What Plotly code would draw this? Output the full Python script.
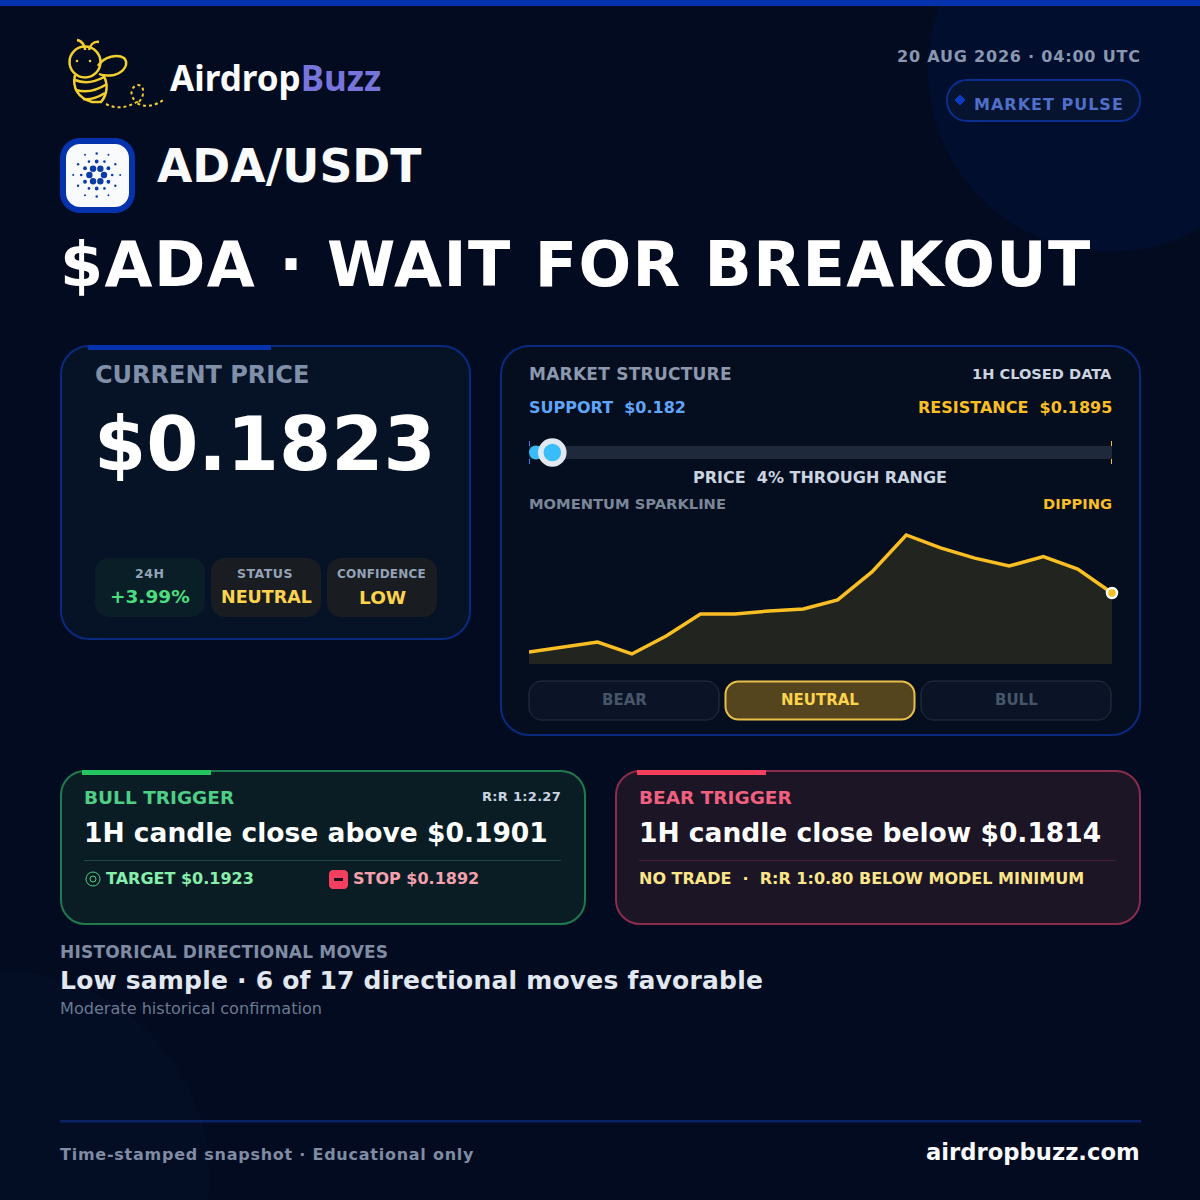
import math
import plotly.graph_objects as go

# values
momentum = [9, 12.7, 16.4, 7.5, 20.9, 37.3, 37.3, 39.6, 41, 47.8, 68.7, 96.3, 86.6, 79, 73.1, 80.2, 70.9, 53]
momentum_idx = list(range(len(momentum)))
range_pct = 4

pair = "ADA/USDT"
headline = "$ADA · WAIT FOR BREAKOUT"
stamp = "20 AUG 2026 · 04:00 UTC"
price = "$0.1823"
stat_labels = ["24H", "STATUS", "CONFIDENCE"]
stat_values = ["+3.99%", "NEUTRAL", "LOW"]
stat_colors = ["#4ade80", "#fcd34d", "#fcd34d"]
stance_labels = ["BEAR", "NEUTRAL", "BULL"]

W = 1200
FONT = "DejaVu Sans"

shapes = []
notes = []


def rrect(x0, y0, x1, y1, r, fill=None, line=None, lw=1.5):
    k = r * 0.45
    p = (f"M{x0+r},{y0} L{x1-r},{y0} C{x1-k},{y0} {x1},{y0+k} {x1},{y0+r} "
         f"L{x1},{y1-r} C{x1},{y1-k} {x1-k},{y1} {x1-r},{y1} "
         f"L{x0+r},{y1} C{x0+k},{y1} {x0},{y1-k} {x0},{y1-r} "
         f"L{x0},{y0+r} C{x0},{y0+k} {x0+k},{y0} {x0+r},{y0} Z")
    shapes.append(dict(type="path", path=p, xref="x", yref="y", layer="below",
                       fillcolor=fill or "rgba(0,0,0,0)",
                       line=dict(color=line or "rgba(0,0,0,0)", width=lw if line else 0)))


def rect(x0, y0, x1, y1, fill):
    shapes.append(dict(type="rect", x0=x0, y0=y0, x1=x1, y1=y1, xref="x", yref="y",
                       layer="below", fillcolor=fill, line=dict(width=0)))


def circle(cx, cy, r, fill=None, line=None, lw=1):
    shapes.append(dict(type="circle", x0=cx-r, y0=cy-r, x1=cx+r, y1=cy+r, xref="x", yref="y",
                       layer="below", fillcolor=fill or "rgba(0,0,0,0)",
                       line=dict(color=line or "rgba(0,0,0,0)", width=lw if line else 0)))


def stroke(path, color, lw=2, dash=None, fill=None):
    shapes.append(dict(type="path", path=path, xref="x", yref="y", layer="below",
                       fillcolor=fill or "rgba(0,0,0,0)",
                       line=dict(color=color, width=lw, dash=dash or "solid")))


def txt(x, y, s, size, color, anchor="left", bold=True, spacing=0, family=FONT):
    if spacing:
        s = f'<span style="letter-spacing:{spacing}px">{s}</span>'
    notes.append(dict(x=x, y=y, xref="x", yref="y", text=s, showarrow=False,
                      xanchor=anchor, yanchor="middle", borderpad=0, borderwidth=0,
                      font=dict(family=family, size=size, color=color,
                                weight="bold" if bold else "normal")))


# page background
circle(1110, 70, 182, fill="#020e2e")
circle(0, 1180, 210, fill="#030d24")
rect(0, 0, W, 6, "#0533ad")

# logo bee
BEE = "#f2cf2f"
stroke("M77,40 C83,41 85,47 85,50", BEE, 2.5)
stroke("M99,42 C93,41 90,46 89,50", BEE, 2.5)
circle(85, 62, 15.5, line=BEE, lw=2.5)
circle(77, 61, 1.3, fill=BEE)
circle(90, 61, 1.3, fill=BEE)
stroke("M98,66 C104,56 118,54 124,58 C129,63 125,72 114,75 C108,76 103,76 99,74", BEE, 2.5)
stroke("M75,75 C72,88 78,98 92,102 L101,102 C107,95 109,84 103,75", BEE, 2.5)
stroke("M75,80 C85,84 95,82 104,77", BEE, 2.5)
stroke("M76,90 C86,93 96,91 107,84", BEE, 2.5)
stroke("M83,99 C90,100 97,98 105,93", BEE, 2.5)
stroke("M106,104 C118,110 128,107 137,102 C130,98 129,87 138,85 C146,85 144,100 137,103 "
       "C145,108 155,106 165,99", BEE, 2, dash="dot")
txt(170, 77, '<span style="color:#fdfdff">Airdrop</span><span style="color:#7775dc">Buzz</span>',
    35, "#fdfdff", family="Noto Sans")

# date and pill
txt(1141, 56, stamp, 16, "#8a97b0", "right", spacing=0.8)
rrect(947, 80, 1140, 121, 20, fill="#07142f", line="#0a2f8f", lw=2)
stroke("M960,95 L965,100 L960,105 L955,100 Z", "#0a3bc0", 1, fill="#0a3bc0")
txt(974, 104, "MARKET PULSE", 16, "#4f6fc9", spacing=1)

# coin badge
rrect(60, 138, 135, 213, 20, fill="#0533ad")
rrect(66, 144, 129, 207, 14, fill="#f8fafc")
for dist, rad, start in [(7.3, 3.2, 0), (13.5, 1.9, 30), (15.5, 1.3, 0), (21.5, 1.2, 30), (23.5, 1.0, 0)]:
    for i in range(6):
        a = math.radians(start + 60 * i)
        circle(96.7 + dist * math.cos(a), 175 + dist * math.sin(a), rad, fill="#0a3ba8")
txt(157, 166, pair, 45.7, "#f8fafc")
txt(60, 264, headline, 62, "#ffffff", spacing=1.4)

# price card
rrect(61, 346, 470, 639, 28, fill="#061327", line="#0a2a80", lw=2)
rect(88, 345, 271, 350, "#0533ad")
txt(95, 374.5, "CURRENT PRICE", 24, "#8090a8")
txt(94, 444, price, 75, "#ffffff")
stat_boxes = [(95, 205, "#091e26"), (211, 321, "#191c20"), (327, 437, "#191c20")]
stat_centers = [149, 265, 381]
label_sizes = [12.5, 12.5, 12]
label_spacing = [0.5, 0.5, 0.2]
label_ys = [573, 573, 573.5]
value_sizes = [18.5, 17.5, 18.5]
value_ys = [596, 597, 597]
for i, (x0, x1, fill) in enumerate(stat_boxes):
    rrect(x0, 558, x1, 617, 14, fill=fill)
    txt(stat_centers[i], label_ys[i], stat_labels[i], label_sizes[i], "#94a3b8", "center", spacing=label_spacing[i])
    txt(stat_centers[i] + 1, value_ys[i], stat_values[i], value_sizes[i], stat_colors[i], "center")

# market card
rrect(501, 346, 1140, 735, 28, fill="#040e1e", line="#0a2a80", lw=2)
txt(529, 373.5, "MARKET STRUCTURE", 17, "#8b98ad", spacing=0.25)
txt(1112, 373.5, "1H CLOSED DATA", 14.6, "#cbd5e1", "right")
txt(529, 407, "SUPPORT\u00a0\u00a0$0.182", 16, "#60a5fa")
txt(1112, 407, "RESISTANCE\u00a0\u00a0$0.1895", 16, "#fbbf24", "right")
rect(529, 441, 530, 464, "#3b82f6")
rect(1111, 441, 1112, 464, "#fbbf24")
txt(820, 477, "PRICE\u00a0\u00a04% THROUGH RANGE", 16, "#cbd5e1", "center")
txt(529, 503.5, "MOMENTUM SPARKLINE", 14.7, "#7b8799")
txt(1112, 503.5, "DIPPING", 14.7, "#fbbf24", "right")
stance_boxes = [(529, 719), (725.5, 914.5), (921, 1111)]
for (x0, x1), lab in zip(stance_boxes, stance_labels):
    active = lab == "NEUTRAL"
    rrect(x0, 681.5 if active else 681, x1, 719.5 if active else 720, 13, fill="#55451f" if active else "#0a1426",
          line="#e8bf4a" if active else "#263245", lw=2 if active else 1)
    txt((x0 + x1) / 2, 700, lab, 15, "#fcd34d" if active else "#475569", "center")

# trigger cards
rrect(61, 771, 585, 924, 24, fill="#0a1d25", line="#1f7a4d", lw=2)
rect(82, 770, 211, 775, "#22c55e")
txt(84, 797, "BULL TRIGGER", 18.5, "#4fce85")
txt(561, 796, "R:R 1:2.27", 13, "#cbd5e1", "right", spacing=0.3)
txt(84, 832.5, "1H candle close above $0.1901", 26.5, "#ffffff")
rect(84, 860, 561, 861, "#1c4a48")
circle(93, 879, 7, line="#4fce85", lw=1)
circle(93, 879, 3, line="#4fce85", lw=1)
txt(106, 878, "TARGET $0.1923", 16, "#86efac")
rrect(329, 870, 348, 889, 4, fill="#f43f5e")
rect(334, 878, 343, 881, "#1a1020")
txt(353, 878, "STOP $0.1892", 16, "#f4a1ae")

rrect(616, 771, 1140, 924, 24, fill="#1b1526", line="#8a2d4c", lw=2)
rect(637, 770, 766, 775, "#f43f5e")
txt(639, 797, "BEAR TRIGGER", 18.5, "#f0607f")
txt(639, 832.5, "1H candle close below $0.1814", 26.5, "#ffffff")
rect(639, 860, 1116, 861, "#4a2038")
txt(639, 878, "NO TRADE\u00a0\u00a0·\u00a0\u00a0R:R 1:0.80 BELOW MODEL MINIMUM", 16, "#fde68a")

# history block
txt(60, 952, "HISTORICAL DIRECTIONAL MOVES", 17, "#7f8ca3", spacing=0.2)
txt(60, 980.5, "Low sample · 6 of 17 directional moves favorable", 25, "#e2e8f0", spacing=0.2)
txt(60, 1008.5, "Moderate historical confirmation", 16.1, "#6b7a90", bold=False)

# footer
rect(60, 1120, 1141, 1122.5, "#0a2266")
txt(60, 1154, "Time-stamped snapshot · Educational only", 16, "#7f8ca3", spacing=0.75)
txt(1140, 1152, "airdropbuzz.com", 22.7, "#f8fafc", "right")

fig = go.Figure()

# range bar
fig.add_trace(go.Bar(x=[100], y=[0], orientation="h", width=1, xaxis="x3", yaxis="y3",
                     marker=dict(color="#1e293b", line=dict(width=0)), hoverinfo="skip"))
fig.add_trace(go.Scatter(x=[range_pct * 0.3], y=[0], mode="markers", xaxis="x3", yaxis="y3", cliponaxis=False,
                         marker=dict(size=14, color="#38bdf8", line=dict(width=0)), hoverinfo="skip"))
fig.add_trace(go.Scatter(x=[range_pct], y=[0], mode="markers", xaxis="x3", yaxis="y3", cliponaxis=False,
                         marker=dict(size=23, color="#38bdf8", line=dict(color="#e2e8f0", width=5.5)),
                         hoverinfo="skip"))

# sparkline
fig.add_trace(go.Scatter(x=momentum_idx, y=momentum, mode="lines", xaxis="x2", yaxis="y2", cliponaxis=False,
                         line=dict(color="#fbbf24", width=3.5), fill="tozeroy",
                         fillcolor="rgba(251,191,36,0.125)", hoverinfo="skip"))
fig.add_trace(go.Scatter(x=momentum_idx[-1:], y=momentum[-1:], mode="markers", xaxis="x2", yaxis="y2",
                         cliponaxis=False,
                         marker=dict(size=10, color="#fbbf24", line=dict(color="#ffffff", width=2.5)),
                         hoverinfo="skip"))

hidden = dict(visible=False, fixedrange=True)
fig.update_layout(
    width=W, height=W, margin=dict(l=0, r=0, t=0, b=0),
    paper_bgcolor="#030b20", plot_bgcolor="rgba(0,0,0,0)",
    showlegend=False, barmode="overlay", dragmode=False,
    shapes=shapes, annotations=notes,
    xaxis=dict(range=[0, W], domain=[0, 1], **hidden),
    yaxis=dict(range=[W, 0], domain=[0, 1], **hidden),
    xaxis2=dict(range=[0, 17], domain=[529 / W, 1112 / W], anchor="y2", **hidden),
    yaxis2=dict(range=[0, 100], domain=[1 - 664 / W, 1 - 530 / W], anchor="x2", **hidden),
    xaxis3=dict(range=[0, 100], domain=[529 / W, 1112 / W], anchor="y3", **hidden),
    yaxis3=dict(range=[-0.5, 0.5], domain=[1 - 459 / W, 1 - 446 / W], anchor="x3", **hidden),
)

fig.write_html("out.html", config=dict(displayModeBar=False),
               post_script="document.body.style.margin='0';document.body.style.background='#030b20';")
